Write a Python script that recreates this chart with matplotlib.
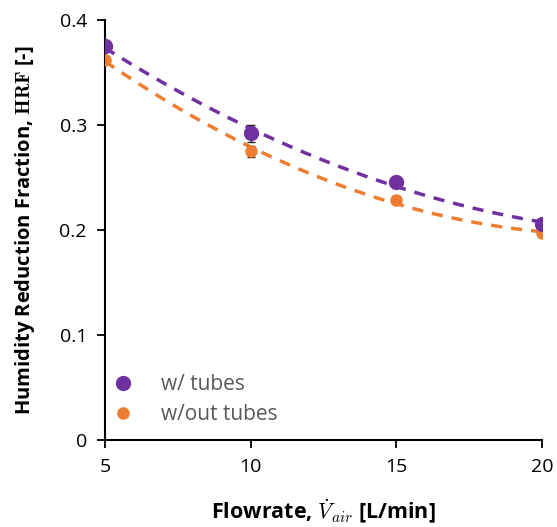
import matplotlib
matplotlib.use('Agg')
import matplotlib.pyplot as plt
import numpy as np

# data
flowrate = [5, 10, 15, 20]
hrf_tubes = [0.375, 0.292, 0.246, 0.206]
hrf_tubes_err = [0.003, 0.008, 0.003, 0.003]
hrf_notubes = [0.362, 0.275, 0.229, 0.197]
hrf_notubes_err = [0.003, 0.005, 0.003, 0.004]

purple = '#7030A0'
orange = '#ED7D31'

plt.rcParams['font.family'] = ['Open Sans', 'DejaVu Sans']
plt.rcParams['mathtext.fontset'] = 'cm'

fig = plt.figure(figsize=(5.57, 5.27), dpi=100)
ax = fig.add_axes([0.1885, 0.165, 0.785, 0.797])

# quadratic trendlines (like Excel)
xx = np.linspace(5, 20, 200)
for y, c in [(hrf_tubes, purple), (hrf_notubes, orange)]:
    p = np.polyfit(flowrate, y, 2)
    ax.plot(xx, np.polyval(p, xx), '--', color=c, lw=2.5, dashes=(3.2, 2.6), zorder=2)

ax.errorbar(flowrate, hrf_tubes, yerr=hrf_tubes_err, fmt='o', color=purple,
            ms=10, ecolor='#222222', elinewidth=1, capsize=3, zorder=4, label='w/ tubes')
ax.errorbar(flowrate, hrf_notubes, yerr=hrf_notubes_err, fmt='o', color=orange,
            ms=8, ecolor='#222222', elinewidth=1, capsize=3, zorder=3, label='w/out tubes')

ax.set_xlim(5, 20)
ax.set_ylim(0, 0.4)
ax.set_xticks([5, 10, 15, 20])
ax.set_yticks([0, 0.1, 0.2, 0.3, 0.4])
ax.set_yticklabels(['0', '0.1', '0.2', '0.3', '0.4'])
ax.tick_params(labelsize=14, direction='out', length=6, width=1.3, colors='black', pad=7)
for s in ['top', 'right']:
    ax.spines[s].set_visible(False)
for s in ['left', 'bottom']:
    ax.spines[s].set_linewidth(1.5)
    ax.spines[s].set_clip_on(False)

ax.set_xlabel(r'Flowrate, $\dot{V}_{air}$ [L/min]', fontsize=15.5, fontweight='bold', labelpad=16)
ax.set_ylabel(r'Humidity Reduction Fraction, $\mathbf{HRF}$ [-]', fontsize=14.5, fontweight='bold', labelpad=16)

handles, labels = ax.get_legend_handles_labels()
handles = [h[0] for h in handles]
leg = ax.legend(handles, labels, loc='lower left', bbox_to_anchor=(-0.03, -0.01), frameon=False,
                fontsize=15, handletextpad=1.2, labelspacing=0.45, handlelength=1.2)
for t in leg.get_texts():
    t.set_color('#595959')

fig.savefig('out.png', dpi=100)
